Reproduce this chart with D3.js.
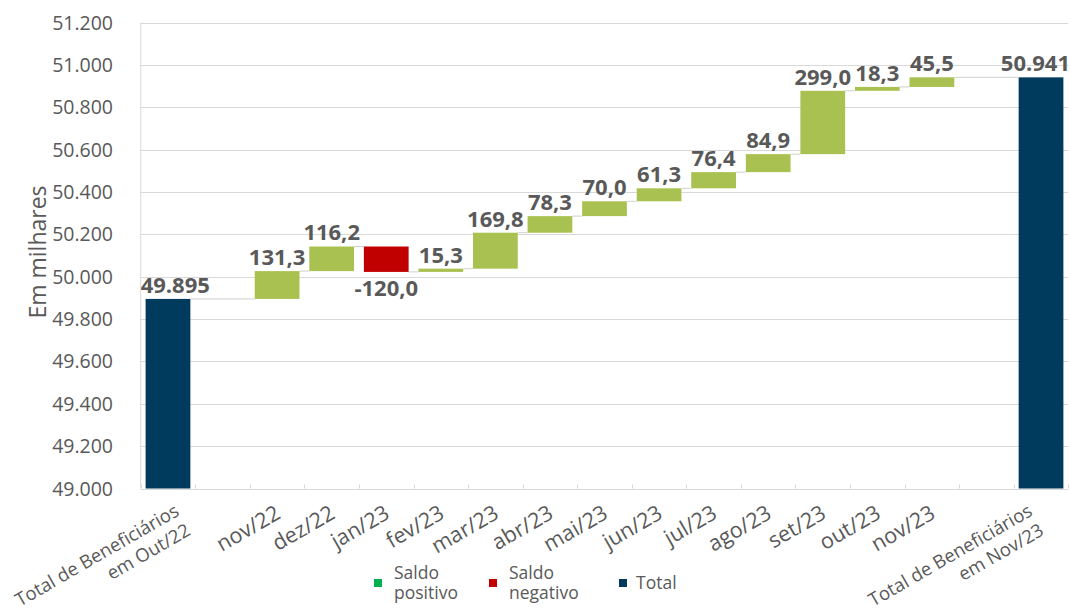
<!DOCTYPE html>
<html>
<head>
<meta charset="utf-8">
<script src="https://cdn.jsdelivr.net/npm/d3@7"></script>
<style>
  body { margin: 0; background: #fff; }
  svg { display: block; font-family: "Open Sans", sans-serif; }
</style>
</head>
<body>
<div id="chart"></div>
<script>
// data
var startLabel = ["Total de Beneficiários", "em Out/22"];
var endLabel = ["Total de Beneficiários", "em Nov/23"];
var startTotal = 49895;
var endTotal = 50941;
var months = ["nov/22", "dez/22", "jan/23", "fev/23", "mar/23", "abr/23", "mai/23",
  "jun/23", "jul/23", "ago/23", "set/23", "out/23", "nov/23"];
var changes = [131.3, 116.2, -120.0, 15.3, 169.8, 78.3, 70.0, 61.3, 76.4, 84.9, 299.0, 18.3, 45.5];
var yTicks = [49000, 49200, 49400, 49600, 49800, 50000, 50200, 50400, 50600, 50800, 51000, 51200];
var legendItems = [
  { lines: ["Saldo", "positivo"], color: "#00b050" },
  { lines: ["Saldo", "negativo"], color: "#c00000" },
  { lines: ["Total"], color: "#003a5c" }
];

var width = 1070;
var height = 614;
var plot = { left: 140.7, right: 1068.3, top: 22.5, bottom: 488.5 };
var colors = { up: "#a9c150", down: "#c00000", total: "#003a5c", text: "#595959", grid: "#d9d9d9" };

var pt = d3.formatLocale({ decimal: ",", thousands: ".", grouping: [3], currency: ["R$", ""], minus: "-" });
var fmtInt = pt.format(",.0f");
var fmtDec = pt.format(",.1f");

// build the waterfall rows: total, gap, months, gap, total
var rows = [];
rows.push({ label: startLabel, type: "total", from: 49000, to: startTotal, text: fmtInt(startTotal) });
rows.push({ label: [""], type: "gap" });
var run = startTotal;
months.forEach(function(m, i) {
  var next = run + changes[i];
  rows.push({ label: [m], type: changes[i] >= 0 ? "up" : "down", from: run, to: next, text: fmtDec(changes[i]) });
  run = next;
});
rows.push({ label: [""], type: "gap" });
rows.push({ label: endLabel, type: "total", from: 49000, to: endTotal, text: fmtInt(endTotal) });

var svg = d3.select("#chart").append("svg")
  .attr("width", width)
  .attr("height", height);

var x = d3.scaleBand()
  .domain(d3.range(rows.length))
  .range([plot.left, plot.right])
  .paddingInner(0.18)
  .paddingOuter(0.09);

var y = d3.scaleLinear()
  .domain([49000, 51200])
  .range([plot.bottom, plot.top]);

// gridlines
svg.append("g").selectAll("line")
  .data(yTicks)
  .enter().append("line")
  .attr("x1", plot.left).attr("x2", plot.right)
  .attr("y1", function(d) { return Math.round(y(d)) + 0.5; })
  .attr("y2", function(d) { return Math.round(y(d)) + 0.5; })
  .attr("stroke", colors.grid);

svg.append("line")
  .attr("x1", plot.left).attr("x2", plot.left)
  .attr("y1", y(51200)).attr("y2", y(49000))
  .attr("stroke", colors.grid);

// category boundary ticks on the x axis
var step = x.step();
svg.append("g").selectAll("line")
  .data(d3.range(rows.length + 1))
  .enter().append("line")
  .attr("x1", function(i) { return Math.round(plot.left + i * step) + 0.5; })
  .attr("x2", function(i) { return Math.round(plot.left + i * step) + 0.5; })
  .attr("y1", y(49000)).attr("y2", y(49000) - 4)
  .attr("stroke", colors.grid);

// y axis labels
svg.append("g").selectAll("text")
  .data(yTicks)
  .enter().append("text")
  .attr("x", 113)
  .attr("y", function(d) { return y(d); })
  .attr("dy", "0.36em")
  .attr("text-anchor", "end")
  .attr("fill", colors.text)
  .style("font-size", "19.5px")
  .text(function(d) { return fmtInt(d); });

svg.append("text")
  .attr("transform", "translate(46,252) rotate(-90)")
  .attr("text-anchor", "middle")
  .attr("fill", colors.text)
  .style("font-size", "23px")
  .text("Em milhares");

// connectors between bars
var bars = rows.map(function(d, i) { d.i = i; return d; }).filter(function(d) { return d.type !== "gap"; });
var links = [];
for (var k = 0; k < bars.length - 1; k++) {
  links.push({ a: bars[k], b: bars[k + 1], level: bars[k].to });
}
svg.append("g").selectAll("line")
  .data(links)
  .enter().append("line")
  .attr("x1", function(d) { return x(d.a.i) + x.bandwidth(); })
  .attr("x2", function(d) { return x(d.b.i); })
  .attr("y1", function(d) { return y(d.level); })
  .attr("y2", function(d) { return y(d.level); })
  .attr("stroke", "#d0d0d0")
  .attr("stroke-width", 1);

// bars
svg.append("g").selectAll("rect")
  .data(bars)
  .enter().append("rect")
  .attr("x", function(d) { return x(d.i); })
  .attr("width", x.bandwidth())
  .attr("y", function(d) { return y(Math.max(d.from, d.to)); })
  .attr("height", function(d) { return Math.abs(y(d.from) - y(d.to)); })
  .attr("fill", function(d) { return colors[d.type]; });

// value labels
var vlab = svg.append("g").selectAll("text")
  .data(bars)
  .enter().append("text")
  .attr("x", function(d) { return x(d.i) + x.bandwidth() / 2; })
  .attr("y", function(d) {
    if (d.type === "down") return y(Math.min(d.from, d.to)) + 24;
    return y(Math.max(d.from, d.to)) - 6;
  })
  .attr("text-anchor", "middle")
  .attr("fill", colors.text)
  .style("font-size", "22px")
  .style("font-weight", "bold")
  .text(function(d) { return d.text; });

// keep labels inside plot / page
vlab.each(function() {
  var bb = this.getBBox();
  var cx = +d3.select(this).attr("x");
  if (bb.x < plot.left) d3.select(this).attr("x", cx + (plot.left - bb.x));
  if (bb.x + bb.width > width) d3.select(this).attr("x", cx - (bb.x + bb.width - width));
});

// category labels, rotated
function labPos(d, i) {
  var long = d.label.length > 1;
  return [x(i) + x.bandwidth() / 2 + (long ? -14 : -3), long ? 503 : 504];
}
var cat = svg.append("g").selectAll("g")
  .data(rows)
  .enter().append("g")
  .attr("transform", function(d, i) {
    var p = labPos(d, i);
    return "translate(" + p[0] + "," + p[1] + ") rotate(-30)";
  });

cat.each(function(d) {
  var t = d3.select(this).append("text")
    .attr("text-anchor", "end")
    .attr("fill", colors.text)
    .style("font-size", d.label.length > 1 ? "18.5px" : "21.5px");
  d.label.forEach(function(line, j) {
    t.append("tspan").attr("x", 0).attr("y", 0).attr("dy", (0.72 + j * 1.22) + "em").text(line);
  });
});

// nudge labels that run off the left edge
cat.each(function(d, i) {
  var r = this.getBoundingClientRect();
  if (r.left < 10) {
    var p = labPos(d, i);
    d3.select(this).attr("transform", "translate(" + (p[0] + 10 - r.left) + "," + p[1] + ") rotate(-30)");
  }
});

// legend
var legendX = [374, 489, 619];
var lg = svg.append("g").selectAll("g")
  .data(legendItems)
  .enter().append("g")
  .attr("transform", function(d, i) { return "translate(" + legendX[i] + ",583)"; });

lg.append("rect")
  .attr("x", 0).attr("y", -4)
  .attr("width", 8).attr("height", 8)
  .attr("fill", function(d) { return d.color; });

lg.append("text")
  .attr("fill", colors.text)
  .style("font-size", "17.5px")
  .each(function(d) {
    var t = d3.select(this);
    var n = d.lines.length;
    d.lines.forEach(function(line, j) {
      t.append("tspan")
        .attr("x", n > 1 ? 20 : 17)
        .attr("y", 0)
        .attr("dy", (0.35 + (j - (n - 1) / 2) * 1.12) + "em")
        .text(line);
    });
  });
</script>
</body>
</html>
